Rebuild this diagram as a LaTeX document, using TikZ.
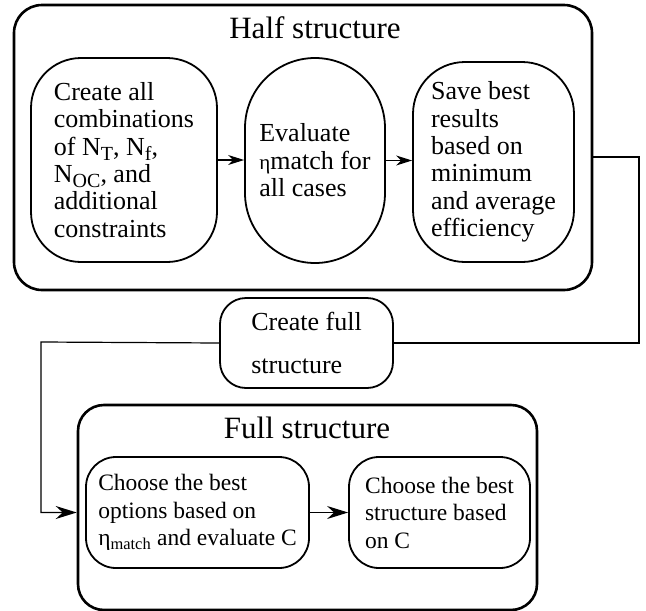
\documentclass[tikz,border=0pt]{standalone}
\usepackage{fontspec}
\setmainfont{Liberation Serif}
\usetikzlibrary{arrows.meta,positioning}
\newcommand{\lowsub}[1]{\raisebox{-0.2em}{\fontsize{20}{20}\selectfont #1}}
\newcommand{\etam}{{\fontsize{21}{21}\selectfont η}}

\begin{document}
\begin{tikzpicture}[x=1pt, y=-1pt,
    groupbox/.style={rectangle, draw, line width=2.6pt, rounded corners=28pt},
    stepbox/.style={rectangle, draw, line width=1.8pt, align=left, inner sep=0pt,
        font=\fontsize{26}{27.4}\selectfont},
    lowbox/.style={rectangle, draw, line width=1.8pt, align=left, inner sep=0pt,
        rounded corners=30pt, font=\fontsize{23.5}{27.5}\selectfont},
    titlenode/.style={font=\fontsize{31}{31}\selectfont},
    smallarr/.style={-{Stealth[length=16pt, width=10pt, inset=5pt]}, line width=1.2pt},
    bigarr/.style={-{Stealth[length=21pt, width=13pt, inset=7pt]}, line width=1.2pt},
    flowline/.style={line width=1.2pt}
]
    \useasboundingbox (0,0) rectangle (646,611);

    % Half structure
    \node[groupbox, minimum width=578pt, minimum height=285pt] (half) at (303,147.5) {};
    \node[titlenode] (halftitle) at (315,28) {Half structure};
    \node[stepbox, rounded corners=50pt, minimum width=186pt, minimum height=204pt] (comb) at (124,160)
        {Create all\\combinations\\of N\lowsub{T}, N\lowsub{f},\\N\lowsub{OC}, and\\additional\\constraints};
    \node[stepbox, rounded corners=70pt, minimum width=140pt, minimum height=205pt] (eval) at (315,160.5)
        {Evaluate\\\etam match for\\all cases};
    \node[stepbox, rounded corners=52pt, minimum width=161pt, minimum height=200pt] (save) at (493.5,162)
        {Save best\\results\\based on\\minimum\\and average\\efficiency};
    \draw[smallarr] (comb.east) -- (comb.east -| eval.west);
    \draw[smallarr] (eval.east) -- (eval.east -| save.west);

    % Create full structure
    \node[rectangle, draw, line width=1.8pt, rounded corners=26pt, minimum width=173pt, minimum height=90pt,
        align=left, font=\fontsize{26}{43}\selectfont] (create) at (306.5,343)
        {Create full\\structure};

    % Full structure
    \node[groupbox, rounded corners=26pt, minimum width=459pt, minimum height=205pt] (full) at (307.5,507.5) {};
    \node[titlenode] (fulltitle) at (307,428) {Full structure};
    \node[lowbox, minimum width=223pt, minimum height=111pt] (choose) at (197.5,512.5)
        {Choose the best\\options based on\\η\textsubscript{match} and evaluate C};
    \node[lowbox, minimum width=181pt, minimum height=111pt] (best) at (439.5,512.5)
        {Choose the best\\structure based\\on C};
    \draw[bigarr] (choose.east) -- (best.west);

    % Connectors
    \coordinate (rturn) at (639,157);
    \coordinate (lturn) at (41,342);
    \draw[flowline] (rturn -| half.east) -- (rturn) |- (create.east);
    \draw[bigarr] (create.west) -- (lturn) |- (full.west |- choose.west);
\end{tikzpicture}
\end{document}
